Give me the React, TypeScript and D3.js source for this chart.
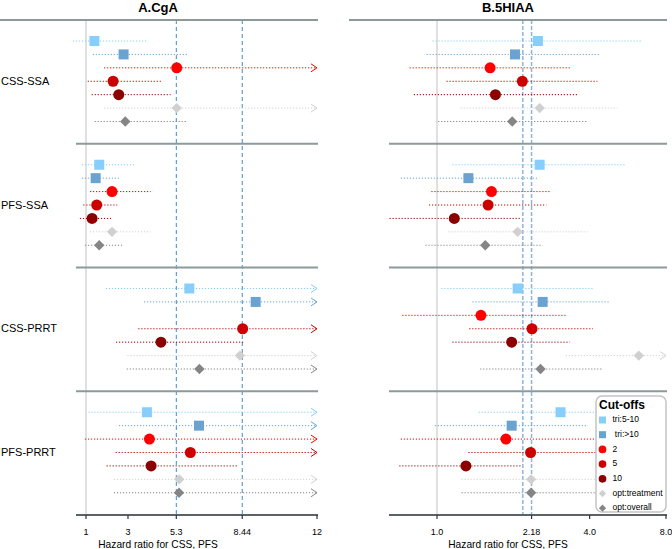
import React from 'react';
import * as d3 from 'd3';

// row / group labels
const groups = ['CSS-SSA', 'PFS-SSA', 'CSS-PRRT', 'PFS-PRRT'];
const cutoffs = ['tri:5-10', ' tri:>10', '2', '5', '10', 'opt:treatment', 'opt:overall'];
const cutColors = ['#87cefa', '#6aa3d0', '#ff0000', '#cc0000', '#8b0000', '#d0d0d0', '#858585'];
const cutShapes = ['square', 'square', 'circle', 'circle', 'circle', 'diamond', 'diamond'];

// A. CgA (hazard ratio, lower CI, upper CI) - rows follow cutoffs, null = not reported
const cgaHR = [
  [1.40, 2.79, 5.32, 2.29, 2.56, 5.32, 2.87],
  [1.63, 1.46, 2.24, 1.51, 1.29, 2.24, 1.63],
  [5.92, 9.08, null, 8.46, 4.57, 8.33, 6.40],
  [3.90, 6.38, 4.02, 5.97, 4.10, 5.44, 5.43],
];
const cgaLow = [
  [0.38, 1.32, 1.86, 1.08, 1.27, 1.86, 1.41],
  [0.80, 0.80, 1.19, 0.87, 0.71, 1.19, 0.95],
  [1.95, 3.76, null, 3.49, 2.43, 2.97, 2.94],
  [1.11, 2.57, 0.95, 2.41, 1.98, 2.33, 2.33],
];
const cgaHigh = [
  [3.94, 5.87, 16, 4.57, 5.03, 16, 5.79],
  [3.30, 2.57, 4.08, 2.49, 2.19, 4.08, 2.75],
  [16, 16, null, 16, 8.49, 16, 16],
  [16, 16, 16, 16, 8.21, 16, 16],
];
const cgaCuts = [5.3, 8.44];
const cgaTicks = [1, 3, 5.3, 8.44, 12];
const cgaTickLabels = ['1', '3', '5.3', '8.44', '12'];

// B. 5HIAA
const hiaaHR = [
  [2.50, 2.03, 1.62, 2.17, 1.70, 2.54, 1.98],
  [2.54, 1.33, 1.64, 1.59, 1.17, 2.08, 1.55],
  [2.08, 2.61, 1.49, 2.37, 1.97, 6.25, 2.56],
  [3.07, 1.97, 1.87, 2.34, 1.30, 2.35, 2.35],
];
const hiaaLow = [
  [0.96, 0.91, 0.78, 1.09, 0.81, 1.24, 1.01],
  [1.15, 0.72, 0.95, 0.93, 0.65, 1.11, 0.90],
  [1.04, 1.38, 0.73, 1.34, 1.15, 3.22, 1.48],
  [1.46, 0.98, 0.72, 1.33, 0.71, 1.25, 1.25],
];
const hiaaHigh = [
  [6.41, 4.38, 3.35, 4.29, 3.61, 5.14, 3.88],
  [5.5, 2.51, 2.81, 2.70, 2.12, 3.94, 2.61],
  [4.16, 4.80, 3.22, 4.12, 3.34, 12, 4.45],
  [5.6, 3.94, 4.3, 4.5, 2.15, 4.2, 4.2],
];
const hiaaCuts = [2.18, 2.36];
const hiaaTicks = [1, 2.36, 4, 8];
const hiaaTickLabels = ['1.0', '2.18', '4.0', '8.0'];

const FONT = 'Arial, "Liberation Sans", sans-serif';
const TOP = 20;
const BOTTOM = 515;

const yPanel = d3.scaleLinear().domain([0, groups.length]).range([TOP, BOTTOM]);
const yRow = d3.scalePoint<string>().domain(cutoffs).range([21, 101.5]);

function Marker({ shape, x, y, color, s = 1 }: any) {
  if (shape === 'square') {
    const h = 5 * s;
    return <rect x={x - h} y={y - h} width={2 * h} height={2 * h} fill={color} />;
  }
  if (shape === 'circle') return <circle cx={x} cy={y} r={5.5 * s} fill={color} />;
  const d = 5.2 * s;
  return <path d={`M${x},${y - d}L${x + d},${y}L${x},${y + d}L${x - d},${y}Z`} fill={color} />;
}

function Panel({ title, titleX, x, xLeft, headLeft, hr, low, high, cuts, cutColor, cutWidth, cutDash, ticks, tickLabels, showLabels }: any) {
  const [, dMax] = x.domain();
  const xEnd = x(dMax);
  return (
    <g>
      <text x={titleX} y={12} textAnchor="middle" fontWeight="bold" fontSize={13}>{title}</text>
      {/* reference line HR = 1 */}
      <line x1={x(1)} x2={x(1)} y1={TOP} y2={BOTTOM} stroke="#d6d6d6" strokeWidth={1.5} />
      {cuts.map((c: number) => (
        <line key={c} x1={x(c)} x2={x(c)} y1={TOP} y2={BOTTOM} stroke={cutColor} strokeWidth={cutWidth} strokeDasharray={cutDash} />
      ))}
      {groups.map((g, gi) => {
        const top = yPanel(gi);
        return (
          <g key={g}>
            {showLabels && (
              <text x={1} y={top + 62} dominantBaseline="middle" fontSize={11}>{g}</text>
            )}
            {cutoffs.map((c, ci) => {
              const v = hr[gi][ci];
              if (v == null) return null;
              const y = top + (yRow(c) as number);
              const lo = x(low[gi][ci]);
              const over = high[gi][ci] > dMax;
              const hi = over ? xEnd : x(high[gi][ci]);
              return (
                <g key={c}>
                  <line x1={lo} x2={hi} y1={y} y2={y} stroke={cutColors[ci]} strokeWidth={1} strokeDasharray="1.2,1.8" />
                  {over && (
                    <path d={`M${hi - 6},${y - 4}L${hi},${y}L${hi - 6},${y + 4}`} fill="none" stroke={cutColors[ci]} strokeWidth={1} />
                  )}
                  <Marker shape={cutShapes[ci]} x={x(v)} y={y} color={cutColors[ci]} />
                </g>
              );
            })}
          </g>
        );
      })}
      {/* panel separators */}
      <line x1={headLeft} x2={xEnd + 1} y1={TOP} y2={TOP} stroke="#8c9a9a" strokeWidth={2} />
      {groups.slice(1).map((g, gi) => (
        <line key={g} x1={xLeft} x2={xEnd + 1} y1={yPanel(gi + 1)} y2={yPanel(gi + 1)} stroke="#8c9a9a" strokeWidth={2} />
      ))}
      {/* axis */}
      <line x1={xLeft} x2={xEnd + 1} y1={BOTTOM} y2={BOTTOM} stroke="#5a6464" strokeWidth={2} />
      {ticks.map((t: number, i: number) => (
        <g key={t}>
          <line x1={x(t)} x2={x(t)} y1={BOTTOM} y2={BOTTOM + 4} stroke="#333" strokeWidth={1.2} />
          <text x={x(t)} y={535} textAnchor="middle" fontSize={9}>{tickLabels[i]}</text>
        </g>
      ))}
      <text x={titleX} y={548} textAnchor="middle" fontSize={10.2}>Hazard ratio for CSS, PFS</text>
    </g>
  );
}

function Legend() {
  return (
    <g>
      <rect x={596} y={396} width={70} height={116} rx={6} fill="#fff" stroke="#c4c4c4" strokeWidth={1.5} />
      <text x={599} y={409} fontWeight="bold" fontSize={12}>Cut-offs</text>
      {cutoffs.map((c, i) => {
        const y = 420 + i * 14.7;
        return (
          <g key={c}>
            <Marker shape={cutShapes[i]} x={602.5} y={y} color={cutColors[i]} s={0.7} />
            <text x={612.5} y={y} dominantBaseline="middle" fontSize={8.5} xmlSpace="preserve" style={{ whiteSpace: 'pre' }}>{c}</text>
          </g>
        );
      })}
    </g>
  );
}

export default function App() {
  const xA = d3.scaleLinear().domain([1, 12]).range([86, 317]);
  const xB = d3.scaleLog().base(2).domain([1, 8]).range([437, 666]);
  return (
    <svg width={672} height={549} style={{ position: 'absolute', left: 0, top: 0, fontFamily: FONT }}>
      <rect width={672} height={549} fill="#fff" />
      <Panel title="A.CgA" titleX={158} x={xA} xLeft={76} headLeft={0} hr={cgaHR} low={cgaLow} high={cgaHigh}
        cuts={cgaCuts} cutColor="#3d8ad0" cutWidth={1} cutDash="4,3" ticks={cgaTicks} tickLabels={cgaTickLabels} showLabels />
      <Panel title="B.5HIAA" titleX={508} x={xB} xLeft={389} headLeft={349} hr={hiaaHR} low={hiaaLow} high={hiaaHigh}
        cuts={hiaaCuts} cutColor="#8fb5da" cutWidth={1.5} cutDash="4,2" ticks={hiaaTicks} tickLabels={hiaaTickLabels} showLabels={false} />
      <Legend />
    </svg>
  );
}
